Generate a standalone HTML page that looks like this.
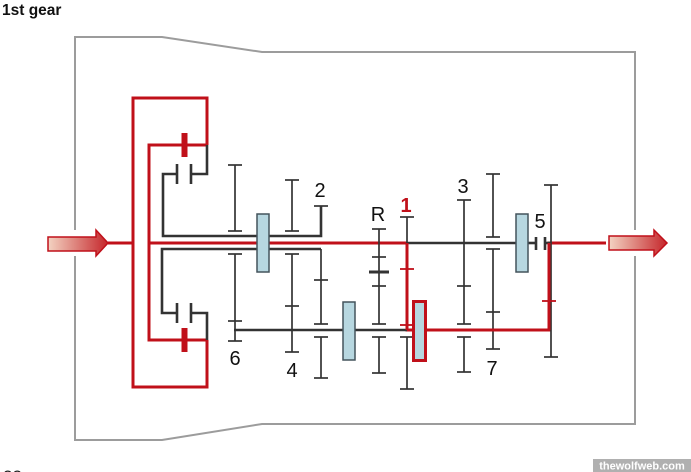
<!DOCTYPE html>
<html><head><meta charset="utf-8"><style>
html,body{margin:0;padding:0;background:#fff;}
body{width:691px;height:472px;overflow:hidden;position:relative;}
svg{position:absolute;left:0;top:0;}
text{font-family:"Liberation Sans",Arial,sans-serif;}
</style></head><body>
<svg width="691" height="472" viewBox="0 0 691 472" xmlns="http://www.w3.org/2000/svg">
<defs>
<linearGradient id="ag" x1="0" y1="0" x2="1" y2="0">
<stop offset="0" stop-color="#f3d3c2"/>
<stop offset="1" stop-color="#c5262b"/>
</linearGradient>
</defs>
<text x="2" y="15" font-size="15.5" font-weight="bold" fill="#111">1st gear</text>

<!-- housing -->
<polyline points="75,230 75,37 162,37 262,52 635,52 635,230" fill="none" stroke="#9c9c9c" stroke-width="2"/>
<polyline points="75,256 75,440 162,440 262,424 635,424 635,256" fill="none" stroke="#9c9c9c" stroke-width="2"/>

<!-- red cage -->
<g fill="none" stroke="#c0101a" stroke-width="3">
<polyline points="207,145 207,98 133,98 133,387 207,387 207,340"/>
<polyline points="207,145 149,145 149,340 207,340"/>
<line x1="108" y1="243" x2="133" y2="243"/>
<line x1="149" y1="243" x2="407" y2="243"/>
<polyline points="407,243 407,330 549,330 549,243 606,243"/>
</g>
<rect x="181.5" y="133" width="6" height="24" fill="#c0101a"/>
<rect x="181.5" y="328" width="6" height="24" fill="#c0101a"/>

<!-- dark clutch & hollow shafts -->
<g fill="none" stroke="#333" stroke-width="2.6">
<polyline points="207,145 207,174 191,174"/>
<polyline points="177,174 163,174 163,236 321,236 321,206"/>
<polyline points="207,340 207,313 191,313"/>
<polyline points="177,313 162,313 162,249 321,249"/>
<line x1="177" y1="164" x2="177" y2="184"/>
<line x1="191" y1="164" x2="191" y2="184"/>
<line x1="177" y1="303" x2="177" y2="323"/>
<line x1="191" y1="303" x2="191" y2="323"/>
<line x1="234" y1="330" x2="407" y2="330"/>
<line x1="407" y1="243" x2="516" y2="243"/>
<line x1="528" y1="243" x2="536" y2="243"/>
<line x1="545" y1="243" x2="551" y2="243"/>
<line x1="536" y1="237" x2="536" y2="250"/>
<line x1="545" y1="237" x2="545" y2="250"/>
</g>

<!-- gears -->
<g fill="none" stroke="#333" stroke-width="1.7">
<!-- col 6 x=235 -->
<line x1="235" y1="165" x2="235" y2="231"/>
<line x1="228" y1="165" x2="242" y2="165"/><line x1="228" y1="231" x2="242" y2="231"/>
<line x1="235" y1="254" x2="235" y2="341"/>
<line x1="228" y1="254" x2="242" y2="254"/><line x1="228" y1="321" x2="242" y2="321"/><line x1="228" y1="341" x2="242" y2="341"/>
<!-- col 4 x=292 -->
<line x1="292" y1="180" x2="292" y2="231"/>
<line x1="285" y1="180" x2="299" y2="180"/><line x1="285" y1="231" x2="299" y2="231"/>
<line x1="292" y1="254" x2="292" y2="352"/>
<line x1="285" y1="254" x2="299" y2="254"/><line x1="285" y1="306" x2="299" y2="306"/><line x1="285" y1="352" x2="299" y2="352"/>
<!-- col 2 x=321 -->
<line x1="314" y1="206" x2="328" y2="206"/>
<line x1="321" y1="249" x2="321" y2="324"/>
<line x1="314" y1="280" x2="328" y2="280"/><line x1="314" y1="324" x2="328" y2="324"/>
<line x1="321" y1="337" x2="321" y2="378"/>
<line x1="314" y1="337" x2="328" y2="337"/><line x1="314" y1="378" x2="328" y2="378"/>
<!-- col R x=379 -->
<line x1="379" y1="229" x2="379" y2="324"/>
<line x1="372" y1="229" x2="386" y2="229"/><line x1="372" y1="257" x2="386" y2="257"/>
<line x1="372" y1="286" x2="386" y2="286"/><line x1="372" y1="324" x2="386" y2="324"/>
<line x1="379" y1="337" x2="379" y2="373"/>
<line x1="372" y1="337" x2="386" y2="337"/><line x1="372" y1="373" x2="386" y2="373"/>
<!-- col 1 x=407 -->
<line x1="407" y1="217" x2="407" y2="243"/>
<line x1="400" y1="217" x2="414" y2="217"/>
<line x1="407" y1="337" x2="407" y2="389"/>
<line x1="400" y1="337" x2="414" y2="337"/><line x1="400" y1="389" x2="414" y2="389"/>
<!-- col 3 x=464 -->
<line x1="464" y1="200" x2="464" y2="324"/>
<line x1="457" y1="200" x2="471" y2="200"/><line x1="457" y1="286" x2="471" y2="286"/><line x1="457" y1="324" x2="471" y2="324"/>
<line x1="464" y1="337" x2="464" y2="372"/>
<line x1="457" y1="337" x2="471" y2="337"/><line x1="457" y1="372" x2="471" y2="372"/>
<!-- col 7 x=493 -->
<line x1="493" y1="174" x2="493" y2="237"/>
<line x1="486" y1="174" x2="500" y2="174"/><line x1="486" y1="237" x2="500" y2="237"/>
<line x1="493" y1="249" x2="493" y2="349"/>
<line x1="486" y1="249" x2="500" y2="249"/><line x1="486" y1="312" x2="500" y2="312"/><line x1="486" y1="349" x2="500" y2="349"/>
<!-- col 5 out x=551 -->
<line x1="551" y1="185" x2="551" y2="357"/>
<line x1="544" y1="185" x2="558" y2="185"/><line x1="544" y1="357" x2="558" y2="357"/>
</g>
<line x1="369" y1="272" x2="389" y2="272" stroke="#333" stroke-width="3"/>

<!-- red overlays on path -->
<g stroke="#c0101a" stroke-width="3" fill="none">
<line x1="407" y1="243" x2="407" y2="330"/>
<line x1="407" y1="330" x2="549" y2="330"/>
<line x1="549" y1="243" x2="549" y2="330"/>
</g>
<g stroke="#c0101a" stroke-width="1.8">
<line x1="400" y1="269" x2="414" y2="269"/>
<line x1="400" y1="325" x2="414" y2="325"/>
<line x1="542" y1="301" x2="556" y2="301"/>
</g>

<!-- sync blocks -->
<rect x="257" y="214" width="12" height="58" fill="#b7d7e0" stroke="#44545c" stroke-width="1.5"/>
<rect x="343" y="302" width="12" height="58" fill="#b7d7e0" stroke="#44545c" stroke-width="1.5"/>
<rect x="516" y="214" width="12" height="58" fill="#b7d7e0" stroke="#44545c" stroke-width="1.5"/>
<rect x="413.5" y="301.5" width="12" height="59" fill="#b7d7e0" stroke="#c0101a" stroke-width="3"/>

<!-- arrows -->
<path d="M48,237 L96,237 L96,230 L108,243 L96,256 L96,251 L48,251 Z" fill="url(#ag)" stroke="#c0101a" stroke-width="1.5"/>
<path d="M609,236 L654,236 L654,230 L667,243 L654,256 L654,250 L609,250 Z" fill="url(#ag)" stroke="#c0101a" stroke-width="1.5"/>

<!-- labels -->
<g font-size="20" fill="#111" text-anchor="middle">
<text x="320" y="197">2</text>
<text x="378" y="221">R</text>
<text x="463" y="193">3</text>
<text x="540" y="228">5</text>
<text x="235" y="365">6</text>
<text x="292" y="377">4</text>
<text x="492" y="375">7</text>
</g>
<text x="406" y="212" font-size="20" font-weight="bold" fill="#c0101a" text-anchor="middle">1</text>

<text x="3" y="482" font-size="17" fill="#222">22</text>

<rect x="593" y="459" width="98" height="13" fill="#b0b0b0"/>
<text x="642" y="469.5" font-size="11" font-weight="bold" fill="#fff" text-anchor="middle">thewolfweb.com</text>
</svg>
</body></html>
